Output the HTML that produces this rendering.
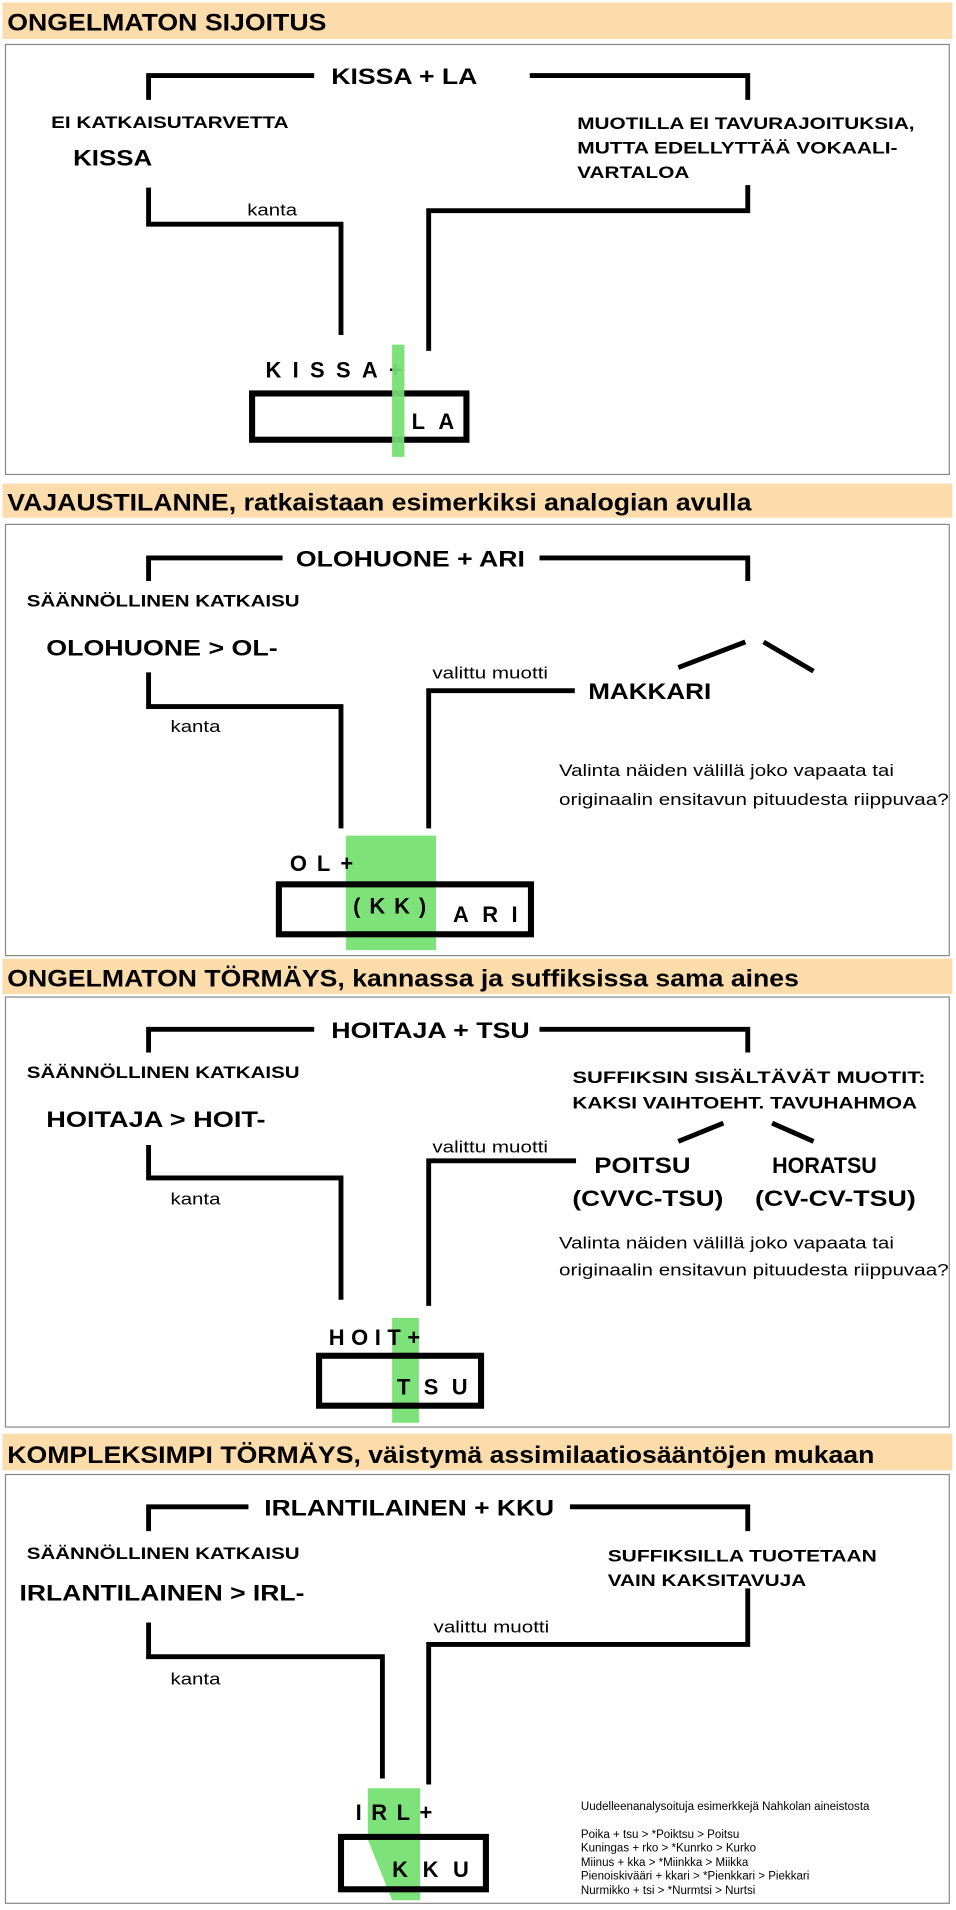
<!DOCTYPE html>
<html><head><meta charset="utf-8"><style>
html,body{margin:0;padding:0;background:#fff;}
svg{display:block;}
text{font-family:"Liberation Sans",sans-serif;fill:#000;}
.h{font-size:20px;font-weight:bold;}
.b{font-size:14px;font-weight:bold;}
.m{font-size:18px;font-weight:bold;}
.n{font-size:14px;}
.s{font-size:9.5px;}
.L{fill:none;stroke:#000;stroke-width:4;stroke-linejoin:miter;}
.bx{fill:#fff;stroke:#888;stroke-width:1;}
.hd{fill:#fddcab;}
</style></head><body>
<svg width="956" height="1910" viewBox="0 0 785 1568" preserveAspectRatio="none">
<!-- Section 1 -->
<rect class="hd" x="2" y="2" width="780" height="30"/>
<text class="h" x="6" y="25" textLength="262" lengthAdjust="spacingAndGlyphs">ONGELMATON SIJOITUS</text>
<rect class="bx" x="4.5" y="36.5" width="775" height="353"/>
<polyline class="L" points="122,82 122,62 258,62"/>
<text class="m" x="272" y="69" textLength="120" lengthAdjust="spacingAndGlyphs">KISSA + LA</text>
<polyline class="L" points="435,62 614,62 614,82"/>
<text class="b" x="42" y="105" textLength="195" lengthAdjust="spacingAndGlyphs">EI KATKAISUTARVETTA</text>
<text class="m" x="60" y="136" textLength="65" lengthAdjust="spacingAndGlyphs">KISSA</text>
<text class="b" x="474" y="106" textLength="277" lengthAdjust="spacingAndGlyphs">MUOTILLA EI TAVURAJOITUKSIA,</text>
<text class="b" x="474" y="126" textLength="263" lengthAdjust="spacingAndGlyphs">MUTTA EDELLYTTÄÄ VOKAALI-</text>
<text class="b" x="474" y="146" textLength="92" lengthAdjust="spacingAndGlyphs">VARTALOA</text>
<polyline class="L" points="122,154 122,184 280,184 280,275"/>
<text class="n" x="203" y="177" textLength="41" lengthAdjust="spacingAndGlyphs">kanta</text>
<polyline class="L" points="614,152 614,173 352,173 352,288"/>
<rect x="322" y="283" width="10" height="92" fill="#7ee27a"/>
<text class="m" x="218" y="310" textLength="112" lengthAdjust="spacing">KISSA+</text>
<rect x="207" y="323" width="176" height="38" fill="none" stroke="#000" stroke-width="5"/>
<rect x="322" y="283" width="10" height="92" fill="#7ee27a" opacity="0.9"/>
<text class="m" x="338" y="352" textLength="35" lengthAdjust="spacing">LA</text>

<!-- Section 2 -->
<rect class="hd" x="2" y="397" width="780" height="28"/>
<text class="h" x="6" y="419" textLength="611" lengthAdjust="spacingAndGlyphs">VAJAUSTILANNE, ratkaistaan esimerkiksi analogian avulla</text>
<rect class="bx" x="4.5" y="430.5" width="775" height="354"/>
<polyline class="L" points="122,477 122,458 232,458"/>
<text class="m" x="243" y="465" textLength="188" lengthAdjust="spacingAndGlyphs">OLOHUONE + ARI</text>
<polyline class="L" points="443,458 614,458 614,477"/>
<text class="b" x="22" y="498" textLength="224" lengthAdjust="spacingAndGlyphs">SÄÄNNÖLLINEN KATKAISU</text>
<text class="m" x="38" y="538" textLength="190" lengthAdjust="spacingAndGlyphs">OLOHUONE &gt; OL-</text>
<polyline class="L" points="122,552 122,580 280,580 280,680"/>
<text class="n" x="140" y="601" textLength="41" lengthAdjust="spacingAndGlyphs">kanta</text>
<polyline class="L" points="352,680 352,567 472,567"/>
<text class="n" x="355" y="557" textLength="95" lengthAdjust="spacingAndGlyphs">valittu muotti</text>
<text class="m" x="483" y="574" textLength="101" lengthAdjust="spacingAndGlyphs">MAKKARI</text>
<line class="L" x1="557" y1="548" x2="612" y2="527"/>
<line class="L" x1="627" y1="527" x2="668" y2="551"/>
<text class="n" x="459" y="637" textLength="275" lengthAdjust="spacingAndGlyphs">Valinta näiden välillä joko vapaata tai</text>
<text class="n" x="459" y="661" textLength="320" lengthAdjust="spacingAndGlyphs">originaalin ensitavun pituudesta riippuvaa?</text>
<rect x="284" y="686" width="74" height="94" fill="#7ee27a"/>
<text class="m" x="238" y="715" textLength="52" lengthAdjust="spacing">OL+</text>
<rect x="229" y="726" width="207" height="41" fill="none" stroke="#000" stroke-width="5"/>
<text class="m" x="290" y="750" textLength="60" lengthAdjust="spacing">(KK)</text>
<text class="m" x="372" y="757" textLength="53" lengthAdjust="spacing">ARI</text>

<!-- Section 3 -->
<rect class="hd" x="2" y="787" width="780" height="29"/>
<text class="h" x="6" y="810" textLength="650" lengthAdjust="spacingAndGlyphs">ONGELMATON TÖRMÄYS, kannassa ja suffiksissa sama aines</text>
<rect class="bx" x="4.5" y="818.5" width="775" height="353"/>
<polyline class="L" points="122,864 122,845 258,845"/>
<text class="m" x="272" y="852" textLength="163" lengthAdjust="spacingAndGlyphs">HOITAJA + TSU</text>
<polyline class="L" points="443,845 614,845 614,864"/>
<text class="b" x="22" y="885" textLength="224" lengthAdjust="spacingAndGlyphs">SÄÄNNÖLLINEN KATKAISU</text>
<text class="m" x="38" y="925" textLength="180" lengthAdjust="spacingAndGlyphs">HOITAJA &gt; HOIT-</text>
<text class="b" x="470" y="889" textLength="290" lengthAdjust="spacingAndGlyphs">SUFFIKSIN SISÄLTÄVÄT MUOTIT:</text>
<text class="b" x="470" y="910" textLength="283" lengthAdjust="spacingAndGlyphs">KAKSI VAIHTOEHT. TAVUHAHMOA</text>
<polyline class="L" points="122,940 122,967 280,967 280,1067"/>
<text class="n" x="140" y="989" textLength="41" lengthAdjust="spacingAndGlyphs">kanta</text>
<polyline class="L" points="352,1072 352,953 473,953"/>
<text class="n" x="355" y="946" textLength="95" lengthAdjust="spacingAndGlyphs">valittu muotti</text>
<line class="L" x1="557" y1="937" x2="594" y2="922"/>
<line class="L" x1="634" y1="922" x2="668" y2="937"/>
<text class="m" x="488" y="963" textLength="79" lengthAdjust="spacingAndGlyphs">POITSU</text>
<text class="m" x="470" y="990" textLength="124" lengthAdjust="spacingAndGlyphs">(CVVC-TSU)</text>
<text class="m" x="634" y="963" textLength="86" lengthAdjust="spacingAndGlyphs">HORATSU</text>
<text class="m" x="620" y="990" textLength="132" lengthAdjust="spacingAndGlyphs">(CV-CV-TSU)</text>
<text class="n" x="459" y="1025" textLength="275" lengthAdjust="spacingAndGlyphs">Valinta näiden välillä joko vapaata tai</text>
<text class="n" x="459" y="1047" textLength="320" lengthAdjust="spacingAndGlyphs">originaalin ensitavun pituudesta riippuvaa?</text>
<rect x="322" y="1082" width="22" height="86" fill="#7ee27a"/>
<text class="m" x="270" y="1104" textLength="75" lengthAdjust="spacing">HOIT+</text>
<rect x="262" y="1113" width="133" height="41" fill="none" stroke="#000" stroke-width="5"/>
<text class="m" x="326" y="1145" textLength="58" lengthAdjust="spacing">TSU</text>

<!-- Section 4 -->
<rect class="hd" x="2" y="1177" width="780" height="30"/>
<text class="h" x="6" y="1201" textLength="712" lengthAdjust="spacingAndGlyphs">KOMPLEKSIMPI TÖRMÄYS, väistymä assimilaatiosääntöjen mukaan</text>
<rect class="bx" x="4.5" y="1210.5" width="775" height="352"/>
<polyline class="L" points="122,1257 122,1237 204,1237"/>
<text class="m" x="217" y="1244" textLength="238" lengthAdjust="spacingAndGlyphs">IRLANTILAINEN + KKU</text>
<polyline class="L" points="468,1237 614,1237 614,1257"/>
<text class="b" x="22" y="1280" textLength="224" lengthAdjust="spacingAndGlyphs">SÄÄNNÖLLINEN KATKAISU</text>
<text class="m" x="16" y="1314" textLength="234" lengthAdjust="spacingAndGlyphs">IRLANTILAINEN &gt; IRL-</text>
<text class="b" x="499" y="1282" textLength="221" lengthAdjust="spacingAndGlyphs">SUFFIKSILLA TUOTETAAN</text>
<text class="b" x="499" y="1302" textLength="163" lengthAdjust="spacingAndGlyphs">VAIN KAKSITAVUJA</text>
<polyline class="L" points="122,1332 122,1360 314,1360 314,1460"/>
<text class="n" x="140" y="1383" textLength="41" lengthAdjust="spacingAndGlyphs">kanta</text>
<polyline class="L" points="614,1304 614,1350 352,1350 352,1465"/>
<text class="n" x="356" y="1340" textLength="95" lengthAdjust="spacingAndGlyphs">valittu muotti</text>
<polygon points="302,1468 345,1468 345,1560 322,1560 302,1510" fill="#7ee27a"/>
<text class="m" x="292" y="1494" textLength="63" lengthAdjust="spacing">IRL+</text>
<rect x="280" y="1508" width="119" height="43" fill="none" stroke="#000" stroke-width="5"/>
<text class="m" x="322" y="1541" textLength="63" lengthAdjust="spacing">KKU</text>
<text class="s" x="477" y="1486">Uudelleenanalysoituja esimerkkejä Nahkolan aineistosta</text>
<text class="s" x="477" y="1509">Poika + tsu &gt; *Poiktsu &gt; Poitsu</text>
<text class="s" x="477" y="1520">Kuningas + rko &gt; *Kunrko &gt; Kurko</text>
<text class="s" x="477" y="1532">Miinus + kka &gt; *Miinkka &gt; Miikka</text>
<text class="s" x="477" y="1543">Pienoiskivääri + kkari &gt; *Pienkkari &gt; Piekkari</text>
<text class="s" x="477" y="1555">Nurmikko + tsi &gt; *Nurmtsi &gt; Nurtsi</text>
</svg>
</body></html>
